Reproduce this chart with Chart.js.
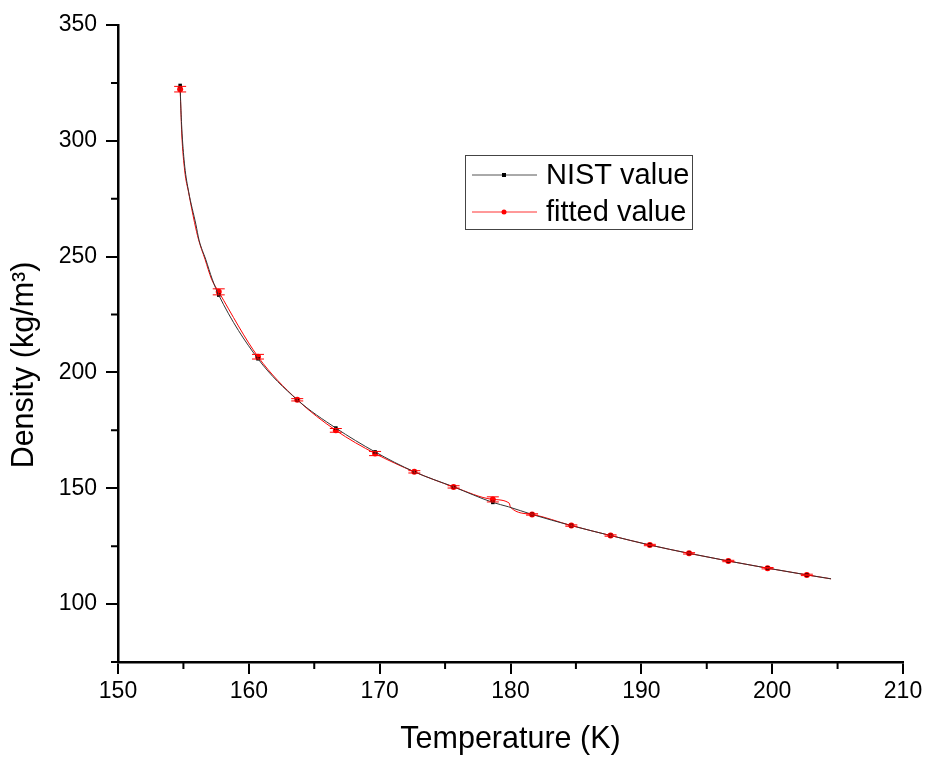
<!DOCTYPE html>
<html>
<head>
<meta charset="utf-8">
<script src="https://cdn.jsdelivr.net/npm/chart.js@4/dist/chart.umd.min.js"></script>
<style>
  body { margin: 0; background: #fff; }
  canvas { display: block; }
</style>
</head>
<body>
<canvas id="densityChart" width="927" height="760"></canvas>
<script>
// marker temperatures (K)
const markT = [154.75, 157.7, 160.7, 163.7, 166.65, 169.65, 172.65, 175.65, 178.65,
  181.65, 184.65, 187.65, 190.65, 193.65, 196.65, 199.65, 202.65];
const nistMark = [323.9, 233.4, 205.9, 188.2, 176.0, 165.7, 157.1, 150.6, 143.9,
  138.7, 133.9, 129.6, 125.5, 121.9, 118.6, 115.5, 112.6];
const fitMark = [322.3, 234.8, 206.8, 188.2, 175.0, 165.0, 157.1, 150.6, 145.2,
  138.7, 133.9, 129.6, 125.5, 121.9, 118.6, 115.5, 112.6];
const fitErr = [1.2, 1.3, 1.0, 0.5, 0.8, 0.9, 0.5, 0.5, 1.1,
  0.3, 0.3, 0.3, 0.3, 0.3, 0.3, 0.3, 0.3];

// line traces (denser near the critical region)
const nistLineT = [154.75, 154.8, 154.9, 155.1, 155.4, 155.95, 156.2, 156.7, 157.2, 157.7,
  160.7, 163.7, 166.65, 169.65, 172.65, 175.65, 178.65, 179.85, 181.65, 184.65, 187.65,
  190.65, 193.65, 196.65, 199.65, 202.65, 204.5];
const nistLineRho = [323.9, 315.0, 303.0, 289.0, 278.0, 264.0, 257.0, 248.9, 240.3, 233.4,
  205.9, 188.2, 176.0, 165.7, 157.1, 150.6, 143.9, 142.0, 138.7, 133.9, 129.6,
  125.5, 121.9, 118.6, 115.5, 112.6, 110.9];
const fitLineT = [154.75, 154.78, 154.87, 155.1, 155.4, 155.85, 156.15, 156.65, 157.15, 157.7,
  160.7, 163.7, 166.65, 169.65, 172.65, 175.65, 178.65, 179.9, 180.0, 181.65, 184.65, 187.65,
  190.65, 193.65, 196.65, 199.65, 202.65, 204.5];
const fitLineRho = [322.3, 317.7, 303.4, 287.0, 277.6, 264.7, 257.5, 248.9, 240.3, 234.8,
  206.8, 188.2, 175.0, 165.0, 157.1, 150.6, 145.2, 143.6, 141.8, 138.7, 133.9, 129.6,
  125.5, 121.9, 118.6, 115.5, 112.6, 110.9];

const xTicks = [150, 160, 170, 180, 190, 200, 210];
const xMinor = [155, 165, 175, 185, 195, 205];
const yTicks = [100, 150, 200, 250, 300, 350];
const yMinor = [75, 125, 175, 225, 275, 325];

const seriesNames = ['NIST value', 'fitted value'];
const yTitle = 'Density (kg/m³)';

const pts = (xs, ys) => xs.map((x, i) => ({ x: x, y: ys[i] }));
const FONT = '"Liberation Sans", Arial, sans-serif';

const errorBars = {
  id: 'errorBars',
  afterDatasetsDraw(chart) {
    const { ctx, scales: { x, y } } = chart;
    ctx.save();
    ctx.strokeStyle = '#ff0000';
    ctx.lineWidth = 1;
    markT.forEach((t, i) => {
      const px = x.getPixelForValue(t);
      const top = y.getPixelForValue(fitMark[i] + fitErr[i]);
      const bot = y.getPixelForValue(fitMark[i] - fitErr[i]);
      ctx.beginPath();
      ctx.moveTo(px, top); ctx.lineTo(px, bot);
      ctx.moveTo(px - 6, top); ctx.lineTo(px + 6, top);
      ctx.moveTo(px - 6, bot); ctx.lineTo(px + 6, bot);
      ctx.stroke();
    });
    ctx.restore();
  }
};

const minorTicks = {
  id: 'minorTicks',
  afterDraw(chart) {
    const { ctx, chartArea, scales: { x, y } } = chart;
    ctx.save();
    ctx.strokeStyle = '#000';
    ctx.lineWidth = 2;
    ctx.beginPath();
    xMinor.forEach(v => {
      const px = x.getPixelForValue(v);
      ctx.moveTo(px, chartArea.bottom); ctx.lineTo(px, chartArea.bottom + 7);
    });
    yMinor.forEach(v => {
      const py = y.getPixelForValue(v);
      ctx.moveTo(chartArea.left, py); ctx.lineTo(chartArea.left - 7, py);
    });
    ctx.stroke();
    // y axis title, sits a bit below the axis middle in the original
    ctx.translate(25, 365);
    ctx.rotate(-Math.PI / 2);
    ctx.fillStyle = '#000';
    ctx.font = '30.5px ' + FONT;
    ctx.textAlign = 'center';
    ctx.textBaseline = 'middle';
    ctx.fillText(yTitle, 0, 0);
    ctx.restore();
  }
};

// legend box like the original (line sample with marker in the middle)
const boxLegend = {
  id: 'boxLegend',
  afterDraw(chart) {
    const ctx = chart.ctx;
    const bx = 465, by = 155, bw = 227, bh = 74;
    ctx.save();
    ctx.strokeStyle = '#444';
    ctx.lineWidth = 1;
    ctx.strokeRect(bx + 0.5, by + 0.5, bw, bh);
    const rows = [175, 212];
    const colors = ['#555', '#ff3333'];
    rows.forEach((ry, i) => {
      ctx.strokeStyle = colors[i];
      ctx.beginPath();
      ctx.moveTo(472, ry); ctx.lineTo(537, ry);
      ctx.stroke();
      if (i === 0) {
        ctx.fillStyle = '#000';
        ctx.fillRect(502, ry - 2, 4, 4);
      } else {
        ctx.fillStyle = '#ff0000';
        ctx.beginPath(); ctx.arc(504, ry, 2.5, 0, Math.PI * 2); ctx.fill();
      }
      ctx.fillStyle = '#000';
      ctx.font = '29px ' + FONT;
      ctx.textBaseline = 'middle';
      ctx.fillText(seriesNames[i], 546, ry + 1);
    });
    ctx.restore();
  }
};

document.addEventListener('DOMContentLoaded', function() {
  const ctx = document.getElementById('densityChart').getContext('2d');
  new Chart(ctx, {
    type: 'line',
    data: {
      datasets: [
        { label: seriesNames[0], data: pts(nistLineT, nistLineRho), borderColor: '#333',
          borderWidth: 1, pointRadius: 0, cubicInterpolationMode: 'monotone', fill: false },
        { label: seriesNames[0] + ' marks', data: pts(markT, nistMark), showLine: false,
          pointStyle: 'rect', pointRadius: 2.5, backgroundColor: '#000', borderColor: '#000', borderWidth: 0 },
        { label: seriesNames[1], data: pts(fitLineT, fitLineRho), borderColor: '#ff0000',
          borderWidth: 1, pointRadius: 0, cubicInterpolationMode: 'monotone', fill: false },
        { label: seriesNames[1] + ' marks', data: pts(markT, fitMark), showLine: false,
          pointStyle: 'circle', pointRadius: 3, backgroundColor: '#ff0000', borderColor: '#ff0000', borderWidth: 0 }
      ]
    },
    options: {
      responsive: false,
      animation: false,
      layout: { padding: { left: 0, top: 25, right: 24, bottom: 0 } },
      plugins: { legend: { display: false }, tooltip: { enabled: false } },
      scales: {
        x: {
          type: 'linear', min: 150, max: 210,
          afterBuildTicks: s => { s.ticks = xTicks.map(v => ({ value: v })); },
          afterFit: s => { s.height = 98; },
          grid: { drawOnChartArea: false, color: '#000', lineWidth: 2, tickLength: 12 },
          border: { display: true, color: '#000', width: 2.5 },
          ticks: { color: '#000', font: { family: FONT, size: 23 }, padding: 4, maxRotation: 0 },
          title: { display: true, text: 'Temperature (K)', color: '#000',
            font: { family: FONT, size: 30.5 }, padding: { top: 0, bottom: 2 } }
        },
        y: {
          type: 'linear', min: 75, max: 350,
          afterBuildTicks: s => { s.ticks = yTicks.map(v => ({ value: v })); },
          afterFit: s => { s.width = 118; },
          grid: { drawOnChartArea: false, color: '#000', lineWidth: 2, tickLength: 12 },
          border: { display: true, color: '#000', width: 2.5 },
          ticks: { color: '#000', font: { family: FONT, size: 23 }, padding: 9 },
          title: { display: false }
        }
      }
    },
    plugins: [errorBars, minorTicks, boxLegend]
  });
});
</script>
</body>
</html>
